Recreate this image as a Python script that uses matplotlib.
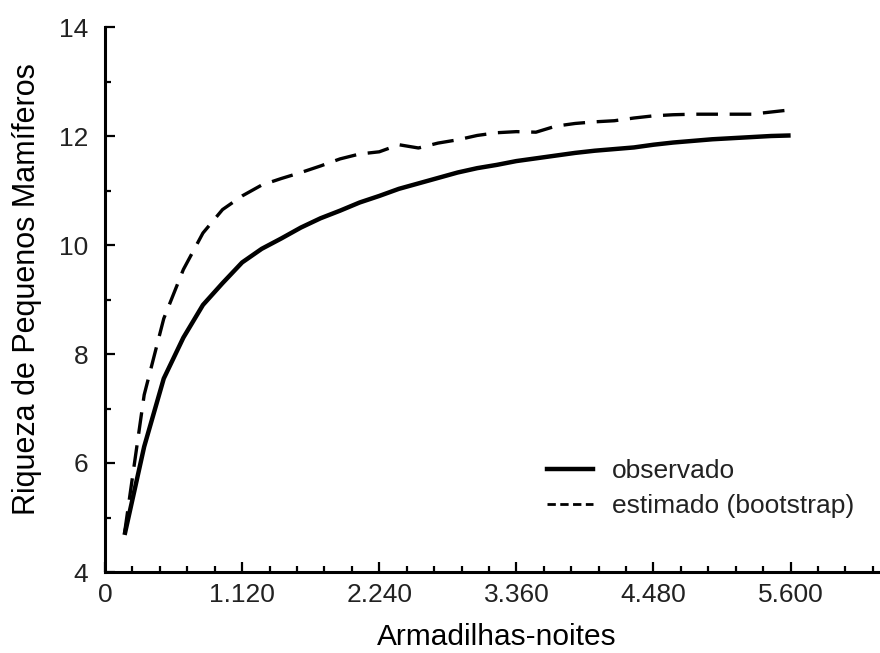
import matplotlib
matplotlib.use("Agg")
import matplotlib.pyplot as plt
from matplotlib.lines import Line2D
from matplotlib.ticker import MultipleLocator, FuncFormatter

plt.rcParams['font.family'] = ['Liberation Sans', 'DejaVu Sans']

# esforco acumulado (armadilhas-noites), 35 amostras de 160
esforco = [160 * (i + 1) for i in range(35)]

observado = [4.68, 6.30, 7.55, 8.30, 8.90, 9.30, 9.68, 9.93, 10.12, 10.32,
             10.49, 10.63, 10.78, 10.90, 11.03, 11.13, 11.23, 11.33, 11.41, 11.47,
             11.54, 11.59, 11.64, 11.69, 11.73, 11.76, 11.79, 11.84, 11.88, 11.91,
             11.94, 11.96, 11.98, 12.00, 12.01]

estimado = [4.72, 7.25, 8.65, 9.55, 10.22, 10.65, 10.90, 11.10, 11.22, 11.33,
            11.45, 11.58, 11.67, 11.71, 11.84, 11.78, 11.87, 11.93, 12.01, 12.06,
            12.08, 12.07, 12.18, 12.23, 12.26, 12.28, 12.33, 12.37, 12.39, 12.40,
            12.40, 12.40, 12.40, 12.44, 12.48]

rotulos = ['observado', 'estimado (bootstrap)']

fig = plt.figure(figsize=(8.8, 6.53), dpi=100)
ax = fig.add_axes([105 / 880, 81 / 653, 775 / 880, 545 / 653])

ax.plot(esforco, observado, color='black', lw=3.2, solid_capstyle='butt')
ax.plot(esforco, estimado, color='black', lw=2.4, dashes=(6.5, 3.5))

ax.set_xlim(0, 6330)
ax.set_ylim(4, 14)

for lado in ['top', 'right']:
    ax.spines[lado].set_visible(False)
for lado in ['left', 'bottom']:
    ax.spines[lado].set_linewidth(2.2)

ax.xaxis.set_major_locator(MultipleLocator(1120))
ax.xaxis.set_minor_locator(MultipleLocator(224))
ax.yaxis.set_major_locator(MultipleLocator(2))
ax.yaxis.set_minor_locator(MultipleLocator(1))
ax.xaxis.set_major_formatter(FuncFormatter(lambda v, p: f"{int(v):,}".replace(",", ".")))

ax.tick_params(which='both', direction='in', width=1.6, colors='black',
               labelcolor='#222222', labelsize=19)
ax.tick_params(which='major', length=7)
ax.tick_params(which='minor', length=4)
ax.tick_params(axis='y', pad=12)
ax.tick_params(axis='x', pad=8)

ax.set_xlabel('Armadilhas-noites', fontsize=21.5)
ax.set_ylabel('Riqueza de Pequenos Mamíferos', fontsize=22)
ax.xaxis.set_label_coords(0.506, -0.093)
ax.yaxis.set_label_coords(-0.081, 0.52)

alcas = [Line2D([], [], color='black', lw=3.2),
         Line2D([], [], color='black', lw=2.0, dashes=(3, 1.6))]
ax.legend(alcas, rotulos, loc='upper left', bbox_to_anchor=(534 / 880, 1 - 446 / 653),
          bbox_transform=fig.transFigure, frameon=False, fontsize=19,
          handlelength=1.75, handletextpad=0.7, labelspacing=0.4, borderpad=0,
          labelcolor='#222222')

fig.savefig('out.png', dpi=100)
